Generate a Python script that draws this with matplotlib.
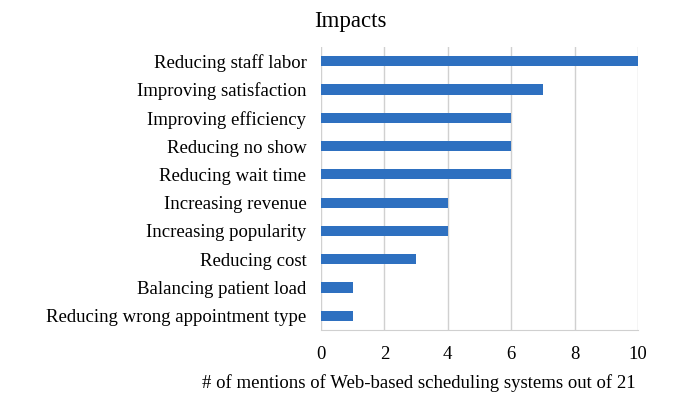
import matplotlib
matplotlib.use("Agg")
import matplotlib.pyplot as plt

categories = [
    "Reducing staff labor",
    "Improving satisfaction",
    "Improving efficiency",
    "Reducing no show",
    "Reducing wait time",
    "Increasing revenue",
    "Increasing popularity",
    "Reducing cost",
    "Balancing patient load",
    "Reducing wrong appointment type",
]
mentions = [10, 7, 6, 6, 6, 4, 4, 3, 1, 1]
x_ticks = [0, 2, 4, 6, 8, 10]

plt.rcParams["font.family"] = ["Liberation Serif", "DejaVu Serif"]

fig = plt.figure(figsize=(7, 4.13), dpi=100)
ax = fig.add_axes([0.4586, 0.201, 0.4528, 0.685])

pos = list(range(len(categories)))[::-1]
ax.barh(pos, mentions, height=0.36, color="#2E70C0", zorder=3)

ax.set_xlim(0, 10)
ax.set_ylim(-0.5, len(categories) - 0.5)
ax.set_xticks(x_ticks)
ax.set_yticks(pos)
ax.set_yticklabels(categories, fontsize=13.5)
ax.tick_params(axis="x", labelsize=13.5, length=0, pad=11.5)
ax.tick_params(axis="y", length=0, pad=10.5)
ax.grid(axis="x", color="#D0D0D0", linewidth=1, zorder=0)
for side in ("top", "right", "left"):
    ax.spines[side].set_visible(False)
ax.spines["bottom"].set_color("#D0D0D0")

fig.text(0.599, 0.073, "# of mentions of Web-based scheduling systems out of 21",
         fontsize=13.5, ha="center", va="center")
fig.text(0.5, 0.947, "Impacts", fontsize=16.5, ha="center", va="center")

fig.savefig("out.png", dpi=100)
plt.close(fig)
